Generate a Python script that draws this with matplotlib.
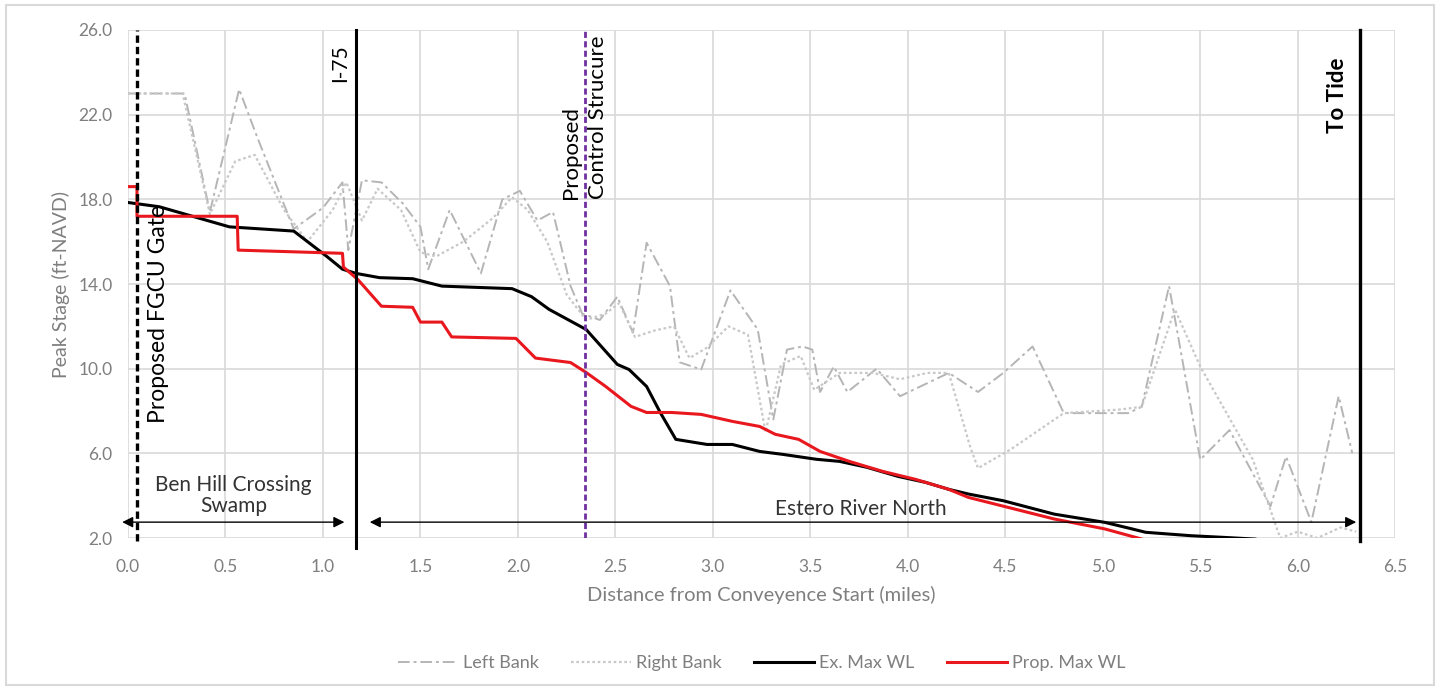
import matplotlib
matplotlib.use("Agg")
import matplotlib.pyplot as plt
from matplotlib.patches import Rectangle

plt.rcParams['font.family'] = ['Lato', 'DejaVu Sans']

# Existing-condition maximum water level along the conveyance
ex_x = [0.00, 0.16, 0.52, 0.85, 1.02, 1.10, 1.17, 1.29, 1.46, 1.61, 1.97, 2.07, 2.16, 2.35,
        2.51, 2.57, 2.66, 2.73, 2.81, 2.97, 3.10, 3.24, 3.36, 3.53, 3.65, 3.79, 3.95, 4.09,
        4.21, 4.31, 4.49, 4.75, 5.01, 5.15, 5.22, 5.45, 5.62, 5.78]
ex_y = [17.85, 17.65, 16.70, 16.50, 15.30, 14.70, 14.50, 14.30, 14.25, 13.90, 13.78, 13.40,
        12.80, 11.85, 10.20, 9.96, 9.16, 7.93, 6.66, 6.42, 6.42, 6.09, 5.95, 5.72, 5.62, 5.34,
        4.91, 4.63, 4.30, 4.08, 3.76, 3.13, 2.74, 2.43, 2.27, 2.11, 2.03, 1.95]

# Proposed-condition maximum water level
prop_x = [0.00, 0.046, 0.046, 0.56, 0.565, 1.10, 1.105, 1.18, 1.30, 1.46, 1.50, 1.61, 1.66,
          1.99, 2.09, 2.27, 2.35, 2.45, 2.58, 2.66, 2.79, 2.94, 3.10, 3.24, 3.32, 3.44, 3.55,
          3.70, 3.87, 4.04, 4.21, 4.31, 4.75, 5.01, 5.20]
prop_y = [18.60, 18.60, 17.20, 17.20, 15.60, 15.45, 14.80, 14.20, 12.95, 12.90, 12.20, 12.20,
          11.50, 11.43, 10.50, 10.29, 9.82, 9.16, 8.22, 7.93, 7.93, 7.84, 7.51, 7.27, 6.90,
          6.66, 6.09, 5.62, 5.15, 4.77, 4.30, 3.92, 2.90, 2.43, 1.95]

# Bank elevations
left_x = [0.00, 0.29, 0.42, 0.57, 0.66, 0.85, 1.00, 1.10, 1.13, 1.20, 1.30, 1.41, 1.50, 1.54,
          1.65, 1.81, 1.92, 2.01, 2.10, 2.18, 2.27, 2.33, 2.42, 2.51, 2.59, 2.66, 2.78, 2.83,
          2.94, 3.09, 3.23, 3.31, 3.38, 3.46, 3.51, 3.55, 3.62, 3.69, 3.84, 3.96, 4.21, 4.36,
          4.49, 4.64, 4.80, 5.13, 5.20, 5.34, 5.50, 5.65, 5.86, 5.94, 6.07, 6.21, 6.28]
left_y = [23.0, 23.0, 17.4, 23.2, 21.0, 16.6, 17.6, 18.8, 15.6, 18.9, 18.8, 17.8, 16.7, 14.7,
          17.5, 14.5, 18.0, 18.4, 17.0, 17.4, 13.9, 12.6, 12.3, 13.4, 11.7, 15.95, 13.9, 10.3,
          9.96, 13.7, 11.85, 7.6, 10.9, 11.05, 10.9, 8.9, 10.1, 8.9, 10.0, 8.7, 9.8, 8.9,
          9.8, 11.05, 7.9, 7.9, 8.2, 13.9, 5.7, 7.1, 3.5, 5.85, 2.75, 8.7, 6.0]

right_x = [0.00, 0.28, 0.42, 0.55, 0.65, 0.80, 0.92, 1.05, 1.12, 1.20, 1.28, 1.40, 1.50, 1.58,
           1.72, 1.87, 1.97, 2.05, 2.15, 2.25, 2.35, 2.45, 2.52, 2.60, 2.70, 2.80, 2.88, 2.97,
           3.08, 3.18, 3.27, 3.35, 3.45, 3.52, 3.65, 3.82, 3.96, 4.10, 4.21, 4.32, 4.36, 4.53,
           4.80, 5.09, 5.20, 5.37, 5.50, 5.77, 5.91, 6.00, 6.10, 6.22, 6.30]
right_y = [23.0, 23.0, 17.3, 19.8, 20.1, 17.5, 16.0, 17.5, 18.8, 17.0, 18.5, 17.5, 15.5, 15.3,
           16.0, 17.1, 18.1, 17.5, 16.0, 13.5, 12.3, 12.6, 13.1, 11.5, 11.8, 12.0, 10.5, 11.0,
           12.0, 11.6, 7.0, 10.2, 10.6, 9.0, 9.8, 9.8, 9.5, 9.8, 9.8, 6.3, 5.3, 6.2,
           7.9, 8.07, 8.2, 12.8, 10.1, 5.7, 2.0, 2.3, 2.0, 2.5, 2.3]

# Structure / landmark stations (miles)
fgcu_gate = 0.046
i75 = 1.168
control_structure = 2.346
to_tide = 6.317

x_ticks = [0.0, 0.5, 1.0, 1.5, 2.0, 2.5, 3.0, 3.5, 4.0, 4.5, 5.0, 5.5, 6.0, 6.5]
y_ticks = [2.0, 6.0, 10.0, 14.0, 18.0, 22.0, 26.0]

fig = plt.figure(figsize=(14.4, 6.91), dpi=100)
ax = fig.add_axes([0.0889, 0.2214, 0.8800, 0.7352])

grid_c = '#d9d9d9'
text_grey = '#7f7f7f'

ax.plot(left_x, left_y, color='#b5b5b5', lw=1.4, linestyle=(0, (6, 2, 1.5, 2)), label='Left Bank')
ax.plot(right_x, right_y, color='#c8c8c8', lw=1.6, linestyle=(0, (1.2, 1.2)), label='Right Bank')
ax.plot(ex_x, ex_y, color='black', lw=2.2, label='Ex. Max WL')
ax.plot(prop_x, prop_y, color='#e8181e', lw=2.2, label='Prop. Max WL')

ax.set_xlim(0, 6.5)
ax.set_ylim(2, 26)
ax.set_xticks(x_ticks)
ax.set_yticks(y_ticks)
ax.set_xticklabels([f'{v:.1f}' for v in x_ticks])
ax.set_yticklabels([f'{v:.1f}' for v in y_ticks])
ax.tick_params(length=0, labelsize=12.5, colors=text_grey)
ax.tick_params(axis='x', pad=15)
ax.tick_params(axis='y', pad=11)
ax.grid(True, color=grid_c, lw=1.2)
ax.set_axisbelow(True)
for s in ax.spines.values():
    s.set_visible(False)
ax.set_xlabel('Distance from Conveyence Start (miles)', fontsize=14.5, color=text_grey, labelpad=8)
ax.set_ylabel('Peak Stage (ft-NAVD)', fontsize=14, color=text_grey, labelpad=6)

# Landmark lines
ax.axvline(fgcu_gate, ymin=-0.005, ymax=1, color='black', lw=2.4, linestyle=(0, (2.2, 1.2)), clip_on=False)
ax.axvline(i75, ymin=-0.02, ymax=1, color='black', lw=2.2, clip_on=False)
ax.axvline(control_structure, ymin=0, ymax=1, color='#7030a0', lw=2.0, linestyle=(0, (2.2, 1.2)))
ax.axvline(to_tide, ymin=-0.006, ymax=1, color='black', lw=2.4, clip_on=False)

ax.text(fgcu_gate + 0.11, 12.6, 'Proposed FGCU Gate', rotation=90, ha='center', va='center',
        fontsize=16.5, color='black')
ax.text(i75 - 0.08, 25.3, 'I-75', rotation=90, ha='center', va='top', fontsize=15, color='black')
ax.text(control_structure - 0.005, 18.0, 'Proposed\nControl Strucure', rotation=90, ha='center',
        va='bottom', multialignment='left', fontsize=16, color='black', linespacing=1.4)
ax.text(to_tide - 0.115, 24.7, 'To Tide', rotation=90, ha='center', va='top', fontsize=16,
        color='black', fontweight='bold')

# Reach extents
arrow_y = 2.75
arrow_kw = dict(arrowstyle='<|-|>', color='black', lw=1.0, mutation_scale=16, shrinkA=0, shrinkB=0)
ax.annotate('', xy=(-0.03, arrow_y), xytext=(1.11, arrow_y), arrowprops=arrow_kw,
            annotation_clip=False)
ax.annotate('', xy=(1.24, arrow_y), xytext=(6.30, arrow_y), arrowprops=arrow_kw,
            annotation_clip=False)
ax.text(0.54, 4.0, 'Ben Hill Crossing\nSwamp', ha='center', va='center', fontsize=15,
        color='#333333', linespacing=1.05)
ax.text(3.76, 3.35, 'Estero River North', ha='center', va='center', fontsize=15, color='#333333')

leg = ax.legend(loc='upper center', bbox_to_anchor=(0.5, -0.198), ncol=4, frameon=False,
                fontsize=13, handlelength=3.3, columnspacing=1.8, handletextpad=0.3)
for t in leg.get_texts():
    t.set_color(text_grey)

fig.add_artist(Rectangle((0.004, 0.008), 0.992, 0.985, transform=fig.transFigure,
                         fill=False, edgecolor='#d9d9d9', lw=1.5))

fig.savefig('out.png', dpi=100)
